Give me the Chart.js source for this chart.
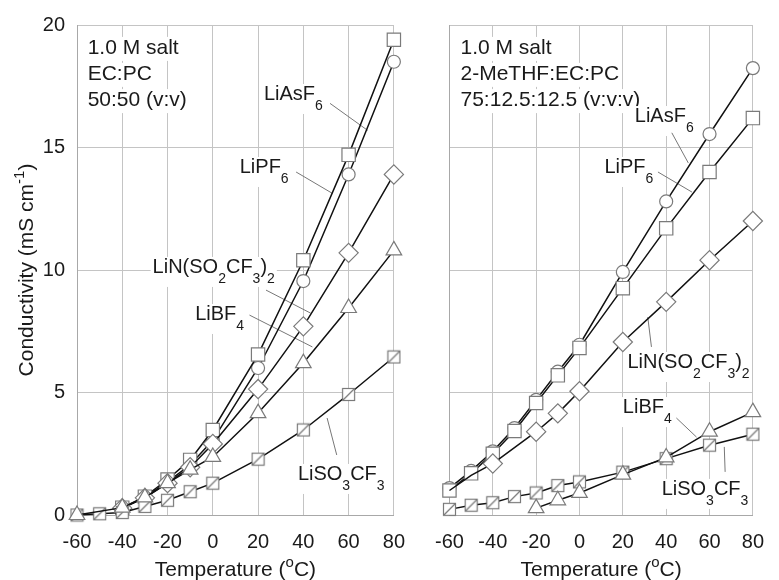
<!DOCTYPE html>
<html><head><meta charset="utf-8">
<script src="https://cdn.jsdelivr.net/npm/chart.js@4"></script>
<style>
html,body{margin:0;padding:0;background:#fff;}
#wrap{position:relative;width:779px;height:580px;overflow:hidden;background:#fff;}
canvas{position:absolute;top:0;}
</style></head><body>
<div id="wrap">
<canvas id="c1" width="420" height="580" style="left:0px"></canvas>
<canvas id="c2" width="359" height="580" style="left:420px"></canvas>
</div>
<script>
// ---------------- DATA ----------------
const temperatures = [-60, -50, -40, -30, -20, -10, 0, 20, 40, 60, 80];
const xTicks = [-60, -40, -20, 0, 20, 40, 60, 80];
const yTicks = [0, 5, 10, 15, 20];
const saltNames = ['LiAsF_6', 'LiPF_6', 'LiN(SO_2CF_3)_2', 'LiBF_4', 'LiSO_3CF_3'];

// Panel 1: EC:PC 50:50 (v:v)
const ecpcLiAsF6   = [null, null, 0.28, 0.72, 1.35, 2.05, 3.05, 6.0, 9.55, 13.9, 18.5];
const ecpcLiPF6    = [null, null, 0.30, 0.75, 1.45, 2.25, 3.47, 6.55, 10.4, 14.7, 19.4];
const ecpcLiImide  = [null, null, 0.28, 0.70, 1.30, 1.95, 2.90, 5.14, 7.7, 10.7, 13.9];
const ecpcLiBF4    = [0.0, null, 0.30, 0.72, 1.30, 1.85, 2.37, 4.16, 6.2, 8.45, 10.8];
const ecpcLiTriflate = [0.0, 0.05, 0.10, 0.35, 0.60, 0.95, 1.30, 2.28, 3.47, 4.92, 6.45];

// Panel 2: 2-MeTHF:EC:PC 75:12.5:12.5 (v:v:v)
const methfLiAsF6  = [1.1, 1.8, 2.6, 3.55, 4.7, 5.85, 6.95, 9.92, 12.8, 15.55, 18.24];
const methfLiPF6   = [1.0, 1.7, 2.5, 3.43, 4.57, 5.7, 6.82, 9.26, 11.7, 14.0, 16.2];
const methfLiImide = [1.0, 1.62, 2.1, null, 3.4, 4.15, 5.05, 7.06, 8.7, 10.4, 12.0];
const methfLiBF4   = [null, null, null, null, 0.28, 0.6, 0.9, 1.65, 2.35, 3.4, 4.2];
const methfLiTriflate = [0.23, 0.4, 0.5, 0.75, 0.9, 1.2, 1.35, 1.75, 2.3, 2.85, 3.3];

const ecpcNote  = ['1.0 M salt', 'EC:PC', '50:50 (v:v)'];
const methfNote = ['1.0 M salt', '2-MeTHF:EC:PC', '75:12.5:12.5 (v:v:v)'];
const yTitle = 'Conductivity (mS cm^{-1})';
const xTitle = 'Temperature (^{o}C)';

// ---------------- LAYOUT / STYLE ----------------
const FONT = "'Liberation Sans', Arial, sans-serif";
const notePosLeft  = {x: -55.3, ys: [18.82, 17.76, 16.69]};
const notePosRight = {x: -54.9, ys: [18.82, 17.76, 16.69]};
// label anchor (text left/baseline) and leader line, in data coordinates
const labelPosLeft = [
  {t: [22.6, 16.94], l: [51.8, 16.8, 68.4, 15.7]},
  {t: [11.9, 13.96], l: [36.8, 14.0, 52.6, 13.14]},
  {t: [-26.6, 9.88], l: [23.5, 9.18, 43.2, 8.24]},
  {t: [-7.8, 7.96],  l: [16.2, 8.16, 44.0, 6.86]},
  {t: [37.6, 1.43],  l: [54.75, 2.45, 50.5, 3.96]}
];
const labelPosRight = [
  {t: [25.5, 16.04], l: [42.6, 15.6, 50.2, 14.37]},
  {t: [11.5, 13.96], l: [36.2, 14.0, 51.9, 13.18]},
  {t: [22.1, 6.0],   l: [33.2, 6.86, 31.5, 8.08]},
  {t: [20.0, 4.16],  l: [44.7, 3.96, 54.0, 3.18]},
  {t: [37.9, 0.82],  l: [67.2, 1.76, 66.8, 2.78]}
];

const crossedSquare = (() => {
  const c = document.createElement('canvas'); c.width = 15; c.height = 15;
  const g = c.getContext('2d');
  g.fillStyle = '#fff'; g.fillRect(1, 1, 13, 13);
  g.strokeStyle = '#7a7a7a'; g.lineWidth = 1.2;
  g.strokeRect(1.5, 1.5, 12, 12);
  g.beginPath(); g.moveTo(1.5, 13.5); g.lineTo(13.5, 1.5); g.stroke();
  return c;
})();
const markerStyles = [
  {pointStyle: 'circle', r: 6.5, order: 5},
  {pointStyle: 'rect', r: 9.4, order: 4},
  {pointStyle: 'rectRot', r: 9.6, order: 3},
  {pointStyle: 'triangle', r: 9, order: 1},
  {pointStyle: crossedSquare, r: 7, order: 2}
];

// ---------------- RICH TEXT ----------------
function parseRich(s) {
  const out = []; let i = 0, buf = '';
  while (i < s.length) {
    const c = s[i];
    if (c === '_' || c === '^') {
      if (buf) { out.push([buf, 0]); buf = ''; }
      const kind = c === '_' ? 1 : 2; let t;
      if (s[i + 1] === '{') { const j = s.indexOf('}', i + 2); t = s.slice(i + 2, j); i = j + 1; }
      else { t = s[i + 1]; i += 2; }
      out.push([t, kind]);
    } else { buf += c; i++; }
  }
  if (buf) out.push([buf, 0]);
  return out;
}
function richWidth(ctx, segs, size) {
  let w = 0;
  for (const [t, k] of segs) { ctx.font = `${k ? Math.round(size * 0.7) : size}px ${FONT}`; w += ctx.measureText(t).width; }
  return w;
}
function drawRich(ctx, segs, x, y, size) {
  let cx = x;
  for (const [t, k] of segs) {
    const fs = k ? Math.round(size * 0.7) : size;
    ctx.font = `${fs}px ${FONT}`;
    const dy = k === 1 ? size * 0.52 : k === 2 ? -size * 0.42 : 0;
    ctx.fillText(t, cx, y + dy);
    cx += ctx.measureText(t).width;
  }
}

function annotPlugin(spec) {
  return {
    id: 'annot',
    beforeDatasetsDraw(chart) {
      const ctx = chart.ctx, xs = chart.scales.x, ys = chart.scales.y;
      ctx.save();
      ctx.textAlign = 'left'; ctx.textBaseline = 'alphabetic';
      spec.note.forEach((line, i) => {
        const x = xs.getPixelForValue(spec.notePos.x), y = ys.getPixelForValue(spec.notePos.ys[i]);
        const segs = parseRich(line); const w = richWidth(ctx, segs, 21);
        ctx.fillStyle = '#fff'; ctx.fillRect(x - 2, y - 17, w + 4, 24);
        ctx.fillStyle = '#1a1a1a'; drawRich(ctx, segs, x, y, 21);
      });
      spec.labels.forEach((p, i) => {
        const segs = parseRich(saltNames[i]);
        const x = xs.getPixelForValue(p.t[0]), y = ys.getPixelForValue(p.t[1]);
        const w = richWidth(ctx, segs, 20);
        ctx.fillStyle = '#fff'; ctx.fillRect(x - 2, y - 16, w + 4, 30);
        ctx.fillStyle = '#1a1a1a'; drawRich(ctx, segs, x, y, 20);
        ctx.strokeStyle = '#777'; ctx.lineWidth = 1;
        ctx.beginPath();
        ctx.moveTo(xs.getPixelForValue(p.l[0]), ys.getPixelForValue(p.l[1]));
        ctx.lineTo(xs.getPixelForValue(p.l[2]), ys.getPixelForValue(p.l[3]));
        ctx.stroke();
      });
      ctx.restore();
    },
    afterDraw(chart) {
      const ctx = chart.ctx, a = chart.chartArea;
      ctx.save(); ctx.fillStyle = '#1a1a1a'; ctx.textAlign = 'left'; ctx.textBaseline = 'alphabetic';
      const xs = parseRich(xTitle); const wx = richWidth(ctx, xs, 21);
      drawRich(ctx, xs, (a.left + a.right) / 2 - wx / 2, 576, 21);
      if (spec.yTitle) {
        const ys = parseRich(yTitle); const wy = richWidth(ctx, ys, 21);
        ctx.translate(33, 270); ctx.rotate(-Math.PI / 2);
        drawRich(ctx, ys, -wy / 2, 0, 21);
      }
      ctx.restore();
    }
  };
}

function makeChart(canvas, spec) {
  return new Chart(canvas, {
    type: 'line',
    data: {
      datasets: spec.series.map((vals, i) => ({
        label: saltNames[i],
        data: temperatures.map((t, j) => ({x: t, y: vals[j]})).filter(p => p.y !== null),
        borderColor: '#111', borderWidth: 1.5, tension: 0,
        pointStyle: markerStyles[i].pointStyle,
        pointRadius: (c) => (spec.hideBelow && spec.hideBelow[i] !== undefined && c.raw && c.raw.x < spec.hideBelow[i]) ? 0 : markerStyles[i].r,
        pointBorderColor: '#7a7a7a', pointBorderWidth: 1.2, pointBackgroundColor: '#fff',
        order: markerStyles[i].order, clip: false, spanGaps: true
      }))
    },
    options: {
      responsive: false, animation: false, devicePixelRatio: 1, events: [],
      layout: {padding: spec.padding},
      plugins: {legend: {display: false}, tooltip: {enabled: false}},
      scales: {
        x: {
          type: 'linear', min: -60, max: 80,
          afterBuildTicks: s => { s.ticks = xTicks.map(v => ({value: v})); },
          afterFit: s => { s.height = 65; },
          grid: {color: '#c4c4c4', lineWidth: 1, drawTicks: false},
          border: {color: '#a8a8a8', width: 1},
          ticks: {font: {family: FONT, size: 20}, color: '#1a1a1a', padding: 15, maxRotation: 0}
        },
        y: {
          type: 'linear', min: 0, max: 20,
          afterBuildTicks: s => { s.ticks = yTicks.map(v => ({value: v})); },
          afterFit: s => { s.width = spec.yWidth; },
          grid: {color: '#c4c4c4', lineWidth: 1, drawTicks: false},
          border: {color: '#a8a8a8', width: 1},
          ticks: {display: spec.yTicks, font: {family: FONT, size: 20}, color: '#1a1a1a', padding: 12}
        }
      }
    },
    plugins: [annotPlugin(spec)]
  });
}

makeChart(document.getElementById('c1'), {
  series: [ecpcLiAsF6, ecpcLiPF6, ecpcLiImide, ecpcLiBF4, ecpcLiTriflate],
  note: ecpcNote, notePos: notePosLeft, labels: labelPosLeft,
  padding: {left: 0, top: 25, right: 16, bottom: 0}, yWidth: 77, yTicks: true, yTitle: true
});
makeChart(document.getElementById('c2'), {
  series: [methfLiAsF6, methfLiPF6, methfLiImide, methfLiBF4, methfLiTriflate],
  note: methfNote, notePos: notePosRight, labels: labelPosRight,
  hideBelow: [undefined, undefined, -45, undefined, undefined],
  padding: {left: 17, top: 25, right: 13, bottom: 0}, yWidth: 0, yTicks: false, yTitle: false
});
</script>
</body></html>
